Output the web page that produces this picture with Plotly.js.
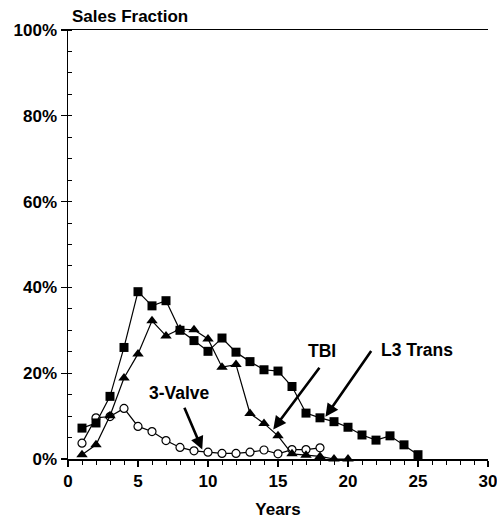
<!DOCTYPE html>
<html>
<head>
<meta charset="utf-8">
<script src="https://cdn.plot.ly/plotly-3.0.1.min.js"></script>
<style>html,body{margin:0;padding:0;background:#fff;}#chart{width:497px;height:523px;}</style>
</head>
<body>
<div id="chart"></div>
<script>
// Sales fraction (%) by years
const yearsL3 = [1,2,3,4,5,6,7,8,9,10,11,12,13,14,15,16,17,18,19,20,21,22,23,24,25];
const l3Trans = [7.2,8.4,14.6,26,39,35.7,36.9,30,27.6,25.1,28.2,24.9,22.7,20.8,20.5,16.9,10.7,9.6,8.7,7.4,5.6,4.4,5.4,3.3,1.0];
const yearsTBI = [1,2,3,4,5,6,7,8,9,10,11,12,13,14,15,16,17,18,19,20];
const tbi = [1,3.3,10.1,18.9,24.5,32.2,28.7,30.3,30.1,28,21.4,22,10.6,8.3,5.4,1.2,0.9,0.6,0,0];
const yearsValve = [1,2,3,4,5,6,7,8,9,10,11,12,13,14,15,16,17,18];
const valve3 = [3.7,9.6,9.9,11.8,7.6,6.4,4.3,2.7,1.9,1.6,1.3,1.3,1.6,2.1,1.2,2.2,2.2,2.6];
const seriesNames = ['3-Valve','TBI','L3 Trans'];

const F = 'Liberation Sans, Arial, Helvetica, sans-serif';
const lineStyle = {color:'#000', width:1.2};

const traces = [
  {x:yearsValve, y:valve3, name:seriesNames[0], mode:'lines+markers', line:lineStyle,
   marker:{symbol:'circle', size:8, color:'#fff', line:{color:'#000', width:1.2}}, cliponaxis:false},
  {x:yearsTBI, y:tbi, name:seriesNames[1], mode:'lines+markers', line:lineStyle,
   marker:{symbol:'triangle-up', size:10, color:'#000'}, cliponaxis:false},
  {x:yearsL3, y:l3Trans, name:seriesNames[2], mode:'lines+markers', line:lineStyle,
   marker:{symbol:'square', size:9, color:'#000'}, cliponaxis:false}
];

const tickFont = {family:F, size:17, color:'#000', weight:'bold'};
const annFont = {family:F, size:17.5, color:'#000', weight:'bold'};
const arrow = {text:'', showarrow:true, arrowhead:2, arrowsize:1, arrowwidth:2.6, arrowcolor:'#000',
               xref:'x', yref:'y', axref:'x', ayref:'y', standoff:0};

const layout = {
  width:497, height:523,
  margin:{l:68, r:9, t:30, b:63.5},
  paper_bgcolor:'#fff', plot_bgcolor:'#fff',
  showlegend:false,
  title:{text:'Sales Fraction', font:{family:F, size:17, color:'#000', weight:'bold'},
         xref:'container', yref:'container', x:72/497, xanchor:'left', y:1-16/523, yanchor:'middle'},
  xaxis:{range:[0,30], dtick:5, tick0:0, showgrid:false, zeroline:false,
         showline:true, linecolor:'#000', linewidth:1.5, mirror:true,
         ticks:'outside', ticklen:6, tickwidth:1.2, tickcolor:'#000',
         minor:{dtick:1, ticks:'outside', ticklen:4, tickwidth:1, tickcolor:'#000'},
         tickfont:tickFont, ticklabeloverflow:'allow',
         title:{text:'Years', font:{family:F, size:17, color:'#000', weight:'bold'}, standoff:13}},
  xaxis2:{range:[0,30], overlaying:'x', anchor:'y', side:'bottom', dtick:5, tick0:0,
          showgrid:false, zeroline:false, showline:false, showticklabels:false,
          ticks:'inside', ticklen:5, tickwidth:1.2, tickcolor:'#000'},
  yaxis:{range:[0,100], dtick:20, tick0:0, ticksuffix:'%', showgrid:false, zeroline:false,
         showline:true, linecolor:'#000', linewidth:1.5,
         ticks:'outside', ticklen:6, tickwidth:1.2, tickcolor:'#000',
         minor:{dtick:5, ticks:'inside', ticklen:4, tickwidth:1, tickcolor:'#000'},
         tickfont:tickFont, ticklabeloverflow:'allow'},
  yaxis2:{range:[0,100], overlaying:'y', anchor:'x', side:'left', dtick:20, tick0:0,
          showgrid:false, zeroline:false, showline:false, showticklabels:false,
          ticks:'inside', ticklen:5, tickwidth:1.2, tickcolor:'#000'},
  yaxis3:{range:[0,100], overlaying:'y', anchor:'x', side:'right', dtick:10, tick0:0,
          showgrid:false, zeroline:false, showline:true, linecolor:'#000', linewidth:1.5,
          showticklabels:false, ticks:'outside', ticklen:5, tickwidth:1.2, tickcolor:'#000',
          minor:{dtick:5, ticks:'inside', ticklen:4, tickwidth:1, tickcolor:'#000'}},
  yaxis4:{range:[0,100], overlaying:'y', anchor:'x', side:'right', dtick:10, tick0:0,
          showgrid:false, zeroline:false, showline:false, showticklabels:false,
          ticks:'inside', ticklen:5, tickwidth:1.2, tickcolor:'#000'},
  annotations:[
    Object.assign({}, arrow, {x:9.59, y:2.2, ax:8.27, ay:12.3}),
    Object.assign({}, arrow, {x:14.66, y:6.9, ax:18.04, ay:21.6}),
    Object.assign({}, arrow, {x:18.39, y:9.84, ax:21.73, ay:25.5}),
    {text:seriesNames[0], showarrow:false, xref:'x', yref:'y', x:7.96, y:15.3, xanchor:'center', yanchor:'middle', font:annFont},
    {text:seriesNames[1], showarrow:false, xref:'x', yref:'y', x:18.11, y:25.1, xanchor:'center', yanchor:'middle', font:annFont},
    {text:seriesNames[2], showarrow:false, xref:'x', yref:'y', x:24.96, y:25.5, xanchor:'center', yanchor:'middle', font:annFont}
  ]
};

Plotly.newPlot('chart', traces, layout, {displayModeBar:false, staticPlot:true});
</script>
</body>
</html>
